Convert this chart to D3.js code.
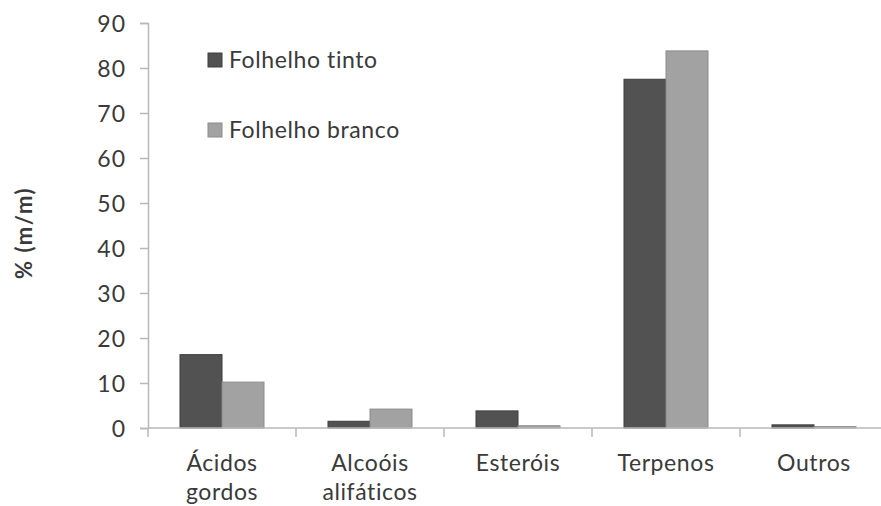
<!DOCTYPE html>
<html>
<head>
<meta charset="utf-8">
<script src="https://cdn.jsdelivr.net/npm/d3@7"></script>
<style>
  html, body { margin: 0; padding: 0; background: #fff; }
  svg { display: block; }
  text { font-family: Lato, "Open Sans", sans-serif; fill: #3a3a3a; }
</style>
</head>
<body>
<svg id="chart" width="881" height="506"></svg>
<script>
// Composition by compound class, % (m/m)
const categories = [["Ácidos", "gordos"], ["Alcoóis", "alifáticos"], ["Esteróis"], ["Terpenos"], ["Outros"]];
const seriesNames = ["Folhelho tinto", "Folhelho branco"];
const tinto = [16.3, 1.5, 3.8, 77.5, 0.7];
const branco = [10.2, 4.2, 0.5, 83.8, 0.3];
const yTicks = [0, 10, 20, 30, 40, 50, 60, 70, 80, 90];

const fills = ["#525252", "#a2a2a2"];
const strokes = ["#3c3c3c", "#8c8c8c"];

const svg = d3.select("#chart");
const plotLeft = 148, plotRight = 888, plotTop = 23, plotBottom = 428;

const keys = categories.map((c, i) => i);
const x = d3.scaleBand().domain(keys).range([plotLeft, plotRight]).paddingInner(0).paddingOuter(0);
const y = d3.scaleLinear().domain([0, 90]).range([plotBottom, plotTop]);
const inner = d3.scaleBand().domain([0, 1]).range([0, 84]);
const groupOffset = (x.bandwidth() - 84) / 2;

const data = [tinto, branco];

// Y axis
const yAxis = svg.append("g").attr("transform", `translate(${plotLeft},0)`)
  .call(d3.axisLeft(y).tickValues(yTicks).tickSize(8).tickPadding(14).tickFormat(d3.format("d")));
yAxis.select(".domain").attr("stroke", "#b8b8b8").attr("stroke-width", 1.5);
yAxis.selectAll(".tick line").attr("stroke", "#b8b8b8").attr("stroke-width", 1.5);
yAxis.selectAll(".tick text").style("font-size", "23px").style("letter-spacing", "1px")
  .attr("fill", "#3a3a3a").attr("dy", "0.36em");

// Bars
data.forEach((vals, s) => {
  svg.append("g").selectAll("rect").data(vals).join("rect")
    .attr("x", (d, i) => x(i) + groupOffset + inner(s))
    .attr("y", d => y(d))
    .attr("width", inner.bandwidth())
    .attr("height", d => y(0) - y(d))
    .attr("fill", fills[s])
    .attr("stroke", strokes[s])
    .attr("stroke-width", 1);
});

// X axis
const xAxis = svg.append("g").attr("transform", `translate(0,${plotBottom})`);
xAxis.append("line").attr("x1", plotLeft).attr("x2", plotRight).attr("stroke", "#b8b8b8").attr("stroke-width", 1.5);
xAxis.selectAll("line.tick").data(keys.concat([keys.length])).join("line")
  .attr("class", "tick")
  .attr("x1", i => i < keys.length ? x(i) : plotRight)
  .attr("x2", i => i < keys.length ? x(i) : plotRight)
  .attr("y1", 0).attr("y2", 9)
  .attr("stroke", "#b8b8b8").attr("stroke-width", 1.5);

const labels = svg.append("g").selectAll("text").data(keys).join("text")
  .attr("x", i => x(i) + x.bandwidth() / 2)
  .attr("y", 471)
  .attr("text-anchor", "middle")
  .style("font-size", "23px")
  .style("letter-spacing", "0.6px");
labels.each(function(i) {
  const t = d3.select(this);
  categories[i].forEach((line, k) => {
    t.append("tspan").attr("x", x(i) + x.bandwidth() / 2).attr("dy", k === 0 ? 0 : 29).text(line);
  });
});

// Y axis title
svg.append("text")
  .attr("transform", "translate(32,233) rotate(-90)")
  .attr("text-anchor", "middle")
  .style("font-size", "22px")
  .style("font-weight", "bold")
  .style("letter-spacing", "1.5px")
  .text("% (m/m)");

// Legend
const legend = svg.append("g");
seriesNames.forEach((name, s) => {
  const ly = 53 + s * 70;
  legend.append("rect").attr("x", 208).attr("y", ly).attr("width", 14).attr("height", 14)
    .attr("fill", fills[s]).attr("stroke", strokes[s]);
  legend.append("text").attr("x", 229).attr("y", ly + 15)
    .style("font-size", "23px").style("letter-spacing", "0.6px").text(name);
});
</script>
</body>
</html>
